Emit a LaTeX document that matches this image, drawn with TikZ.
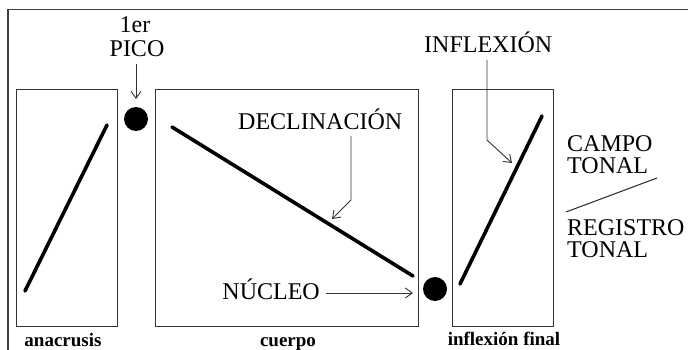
\documentclass[tikz,border=0pt]{standalone}
\usepackage{fontspec}
\setmainfont{Liberation Serif}
\usetikzlibrary{arrows.meta}
\begin{document}
\begin{tikzpicture}[x=1pt,y=-1pt,
  frame/.style={draw=black!75,line width=1.4pt},
  boxst/.style={draw=black!80,line width=1.3pt},
  contour/.style={line width=3.6pt,line cap=round},
  arr/.style={draw=black!80,line width=0.9pt,-{Straight Barb[length=7pt,width=10pt]}},
  lab/.style={inner sep=0pt,anchor=base west,font=\fontsize{24}{24}\selectfont},
  blab/.style={inner sep=0pt,anchor=base,font=\fontsize{19}{19}\selectfont\bfseries},
  dot/.style={circle,fill=black,inner sep=0pt,minimum size=24pt}]
\useasboundingbox (0,0) rectangle (688,350);
\draw[frame] (8,350) -- (8,9.5) -- (688,9.5);
% boxes
\node[boxst,minimum width=101pt,minimum height=237pt,anchor=north west,inner sep=0pt] (b1) at (16,89) {};
\node[boxst,minimum width=263pt,minimum height=237pt,anchor=north west,inner sep=0pt] (b2) at (155,89) {};
\node[boxst,minimum width=101pt,minimum height=237pt,anchor=north west,inner sep=0pt] (b3) at (452,89) {};
% contours
\coordinate (a1) at (25,291); \coordinate (a2) at (107,125);
\draw[contour] (a1) -- (a2);
\coordinate (c1) at (172,127); \coordinate (c2) at (413,276);
\draw[contour] (c1) -- (c2);
\coordinate (f1) at (460,284); \coordinate (f2) at (542,116);
\draw[contour] (f1) -- (f2);
% dots
\node[dot] (d1) at (136,119) {};
\node[dot] (d2) at (435,289) {};
% labels
\node[lab,anchor=base] (er) at (135,33) {1er};
\node[lab,anchor=base] (pico) at (137,57) {PICO};
\node[lab] (decl) at (238,130) {DECLINACIÓN};
\node[lab] (infl) at (424,53) {INFLEXIÓN};
\node[lab,anchor=base east] (nuc) at (320,299) {NÚCLEO};
\node[lab] (campo) at (567,151) {CAMPO};
\node[lab] (ton1) at (567,173) {TONAL};
\node[lab] (reg) at (567,235) {REGISTRO};
\node[lab] (ton2) at (567,257) {TONAL};
\node[blab] (ana) at (63,346) {anacrusis};
\node[blab] (cue) at (288,346) {cuerpo};
\node[blab] (inf) at (504,345) {inflexión final};
% arrows
\coordinate (p1) at (136,64); \coordinate (p2) at (136,99);
\draw[arr] (p1) -- (p2);
\coordinate (dA) at (351,136); \coordinate (dB) at (351,200); \coordinate (dC) at (332,219);
\draw[arr] (dA) -- (dB) -- (dC);
\coordinate (iA) at (487,60); \coordinate (iB) at (487,140); \coordinate (iC) at (512,163);
\draw[arr] (iA) -- (iB) -- (iC);
\coordinate (nA) at (326,293); \coordinate (nB) at (413,293);
\draw[arr] (nA) -- (nB);
% separator line
\coordinate (s1) at (566,212); \coordinate (s2) at (657,178);
\draw[line width=1pt,black!85] (s1) -- (s2);
\end{tikzpicture}
\end{document}
